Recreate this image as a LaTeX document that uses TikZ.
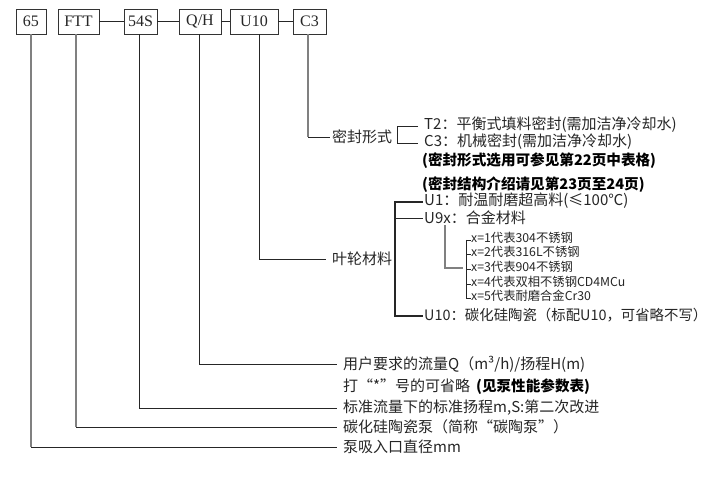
\documentclass[tikz,border=0pt]{standalone}
\usepackage{fontspec}
\newfontfamily\cjk{Noto Sans CJK SC}
\newfontfamily\lat{Liberation Serif}
\begin{document}
\begin{tikzpicture}[x=1pt,y=-1pt,
  box/.style={draw=black!80, line width=0.8pt, minimum height=25pt, inner sep=0pt,
              font=\lat\fontsize{16}{16}\selectfont, text=black!85},
  txt/.style={anchor=west, inner sep=0pt, font=\cjk\fontsize{15}{15}\selectfont, text=black!85},
  btxt/.style={anchor=west, inner sep=0pt, font=\cjk\bfseries\fontsize{14.6}{15}\selectfont, text=black},
  small/.style={anchor=west, inner sep=0pt, font=\cjk\fontsize{12.3}{13}\selectfont, text=black!85},
  ln/.style={line width=0.8pt, draw=black!85},
  gln/.style={line width=1.3pt, draw=black!50}]
\useasboundingbox[fill=white] (0,0) rectangle (716,486);

% code boxes
\node[box, minimum width=30pt] (b65)  at (31,21.5)   {65};
\node[box, minimum width=41pt] (bFTT) at (78.5,21.5) {FTT};
\node[box, minimum width=33pt] (b54S) at (140.5,21.5) {54S};
\node[box, minimum width=42pt] (bQH)  at (200,21.5)  {Q/H};
\node[box, minimum width=48pt] (bU10) at (254,21.5)  {U10};
\node[box, minimum width=33pt] (bC3)  at (309.5,21.5) {C3};
\draw[ln] (bFTT) -- (b54S);
\draw[ln] (b54S) -- (bQH);
\draw[ln] (bQH) -- (bU10);
\draw[ln] (bU10) -- (bC3);

% bottom texts
\node[txt] (tQH) at (343,364) {用户要求的流量Q（m³/h)/扬程H(m)};
\node[txt] (tQH2) at (343,387) {打“*”号的可省略\hspace{6pt}{\bfseries\color{black}\fontsize{14.6}{15}\selectfont(见泵性能参数表)}};
\node[txt] (t54S) at (343,408) {标准流量下的标准扬程m,S:第二次改进};
\node[txt] (tFTT) at (343,427) {碳化硅陶瓷泵（简称“碳陶泵”）};
\node[txt] (t65) at (343,447) {泵吸入口直径mm};

\coordinate (kQH) at (199,364);
\coordinate (k54S) at (139,408);
\coordinate (kFTT) at (76,427);
\coordinate (k65) at (31,447);
\draw[ln] (bQH.south -| kQH) -- (kQH) -- ([xshift=-6pt]tQH.west);
\draw[ln] (b54S.south -| k54S) -- (k54S) -- ([xshift=-6pt]t54S.west);
\draw[gln] (bFTT.south -| kFTT) -- (kFTT);
\draw[ln] (kFTT) -- ([xshift=-6pt]tFTT.west);
\draw[gln] (b65.south -| k65) -- (k65);
\draw[ln] (k65) -- ([xshift=-6pt]t65.west);

% seal
\node[txt] (tSeal) at (332,137) {密封形式};
\coordinate (kC3) at (308,137);
\draw[gln] (bC3.south -| kC3) -- (kC3);
\draw[ln] (kC3) -- ([xshift=-2pt]tSeal.west);
\node[txt] (tT2) at (424,125) {T2：平衡式填料密封(需加洁净冷却水)};
\node[txt] (tC3) at (424,142) {C3：机械密封(需加洁净冷却水)};
\node[btxt] (tB1) at (422,161) {(密封形式选用可参见第22页中表格)};
\node[btxt] (tB2) at (422,185) {(密封结构介绍请见第23页至24页)};
\coordinate (sq1) at (397,126);
\coordinate (sq2) at (397,143);
\draw[ln] ([xshift=-6pt]tT2.west |- sq1) -- (sq1) -- (sq2) -- ([xshift=-6pt]tC3.west |- sq2);

% impeller
\node[txt] (tImp) at (332,259) {叶轮材料};
\coordinate (kU10) at (259,259);
\draw[ln] (bU10.south -| kU10) -- (kU10) -- ([xshift=-6pt]tImp.west);
\node[txt] (tU1) at (424,201) {U1：耐温耐磨超高料(≤100℃)};
\node[txt] (tU9) at (424,218) {U9x：合金材料};
\node[txt, font=\cjk\fontsize{14.4}{15}\selectfont] (tU10) at (424,315) {U10：碳化硅陶瓷（标配U10，可省略不写）};
\coordinate (ib1) at (395,202);
\coordinate (ib2) at (395,218);
\coordinate (ib3) at (395,316);
\draw[line width=1.1pt, draw=black!85] ([xshift=-1pt]tU1.west |- ib1) -- (ib1) -- (ib3) -- ([xshift=-1pt]tU10.west |- ib3);
\draw[ln] (ib2) -- ([xshift=-1pt]tU9.west);

% U9x sub list
\coordinate (u9a) at (445,225);
\coordinate (u9b) at (445,268);
\coordinate (u9c) at (463,268);
\draw[gln, line width=1.1pt] (u9a) -- (u9b) -- (u9c);
\node[small] (s1) at (471,238) {x=1代表304不锈钢};
\node[small] (s2) at (471,252) {x=2代表316L不锈钢};
\node[small] (s3) at (471,267) {x=3代表904不锈钢};
\node[small] (s4) at (471,282) {x=4代表双相不锈钢CD4MCu};
\node[small] (s5) at (471,296) {x=5代表耐磨合金Cr30};
\coordinate (lv1) at (466,240);
\coordinate (lv5) at (466,298);
\draw[ln] (lv1) -- (lv5);
\foreach \i/\yy in {1/240,2/254,3/269,4/284,5/298}{
  \draw[ln] (466,\yy) -- (s\i.west |- {(0,\yy)});
}
\end{tikzpicture}
\end{document}
